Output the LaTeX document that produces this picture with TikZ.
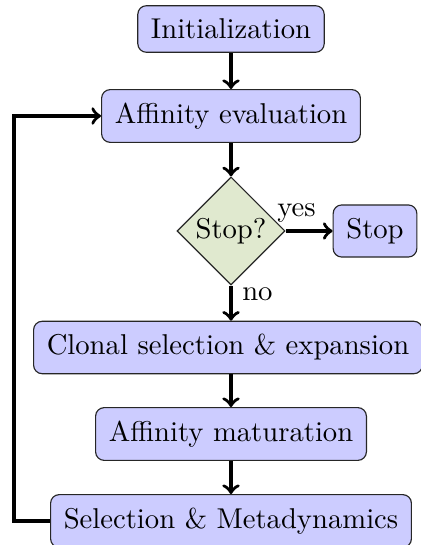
\documentclass[tikz,border=0pt]{standalone}
\usetikzlibrary{shapes.geometric}
\definecolor{decfill}{RGB}{224,233,207}
\begin{document}
\begin{tikzpicture}[x=0.349pt,y=-0.349pt,
  block/.style={draw=black!85, fill=blue!20, rounded corners=3pt, inner sep=4.6pt},
  decision/.style={diamond, draw=black!85, fill=decfill, aspect=1, inner sep=1pt},
  arr/.style={->, line width=1.2pt}]
\useasboundingbox (0,0) rectangle (420,545);
% process steps
\node[block] (init) at (231,29) {Initialization};
\node[block] (eval) at (231,116) {Affinity evaluation};
\node[decision] (dec) at (231,231) {Stop?};
\node[block] (stop) at (375,231) {Stop};
\node[block] (clone) at (228,347.5) {Clonal selection \& expansion};
\node[block] (mat) at (231,434) {Affinity maturation};
\node[block] (sel) at (231,521) {Selection \& Metadynamics};
% flow
\draw[arr] (init) -- (eval);
\draw[arr] (eval) -- (dec);
\draw[arr] (dec) -- node[pos=0.23, above, inner sep=2.5pt] {yes} (stop);
\draw[arr] (dec) -- node[pos=0.25, right] {no} (dec |- clone.north);
\draw[arr] (clone.south -| mat) -- (mat);
\draw[arr] (mat) -- (sel);
% feedback loop
\coordinate (loop) at (14,521);
\draw[arr] (sel.west) -- (loop) |- (eval.west);
\end{tikzpicture}
\end{document}
